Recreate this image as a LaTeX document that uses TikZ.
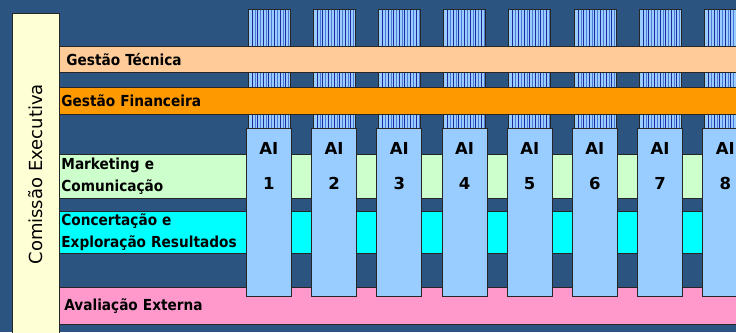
\documentclass[tikz,border=0pt]{standalone}
\usepackage{fontspec}
\setmainfont{DejaVu Sans}
\newfontfamily\condfont{DejaVu Sans Condensed}
\usetikzlibrary{positioning}
\definecolor{bgblue}{HTML}{2B5580}
\definecolor{panelyellow}{HTML}{FFFFD6}
\definecolor{tecnica}{HTML}{FFCC99}
\definecolor{financeira}{HTML}{FF9900}
\definecolor{marketing}{HTML}{CCFFCC}
\definecolor{concertacao}{HTML}{00FFFF}
\definecolor{avaliacao}{HTML}{FF99CC}
\definecolor{aiblue}{HTML}{99CCFF}
\definecolor{stripeblue}{HTML}{1C2A9E}
\definecolor{stripemid}{HTML}{4F78D8}

\begin{document}
\begin{tikzpicture}[x=1pt, y=-1pt,
            every node/.style = {draw = black!85, line width = 0.8pt, inner sep = 0pt},
            band/.style = {anchor = north west, text width = 680pt, align = left,
                           inner xsep = 2pt, font = \condfont\bfseries\fontsize{15.2}{22}\selectfont},
            panel/.style = {fill = panelyellow, minimum width = 340pt, minimum height = 47pt,
                            rotate = 90, font = \fontsize{18}{20}\selectfont},
            hatch/.style = {anchor = north west, fill = aiblue, minimum width = 42pt, minimum height = 119pt},
            aibox/.style = {anchor = north west, fill = aiblue, minimum width = 45pt, minimum height = 168pt},
            ailabel/.style = {draw = none, font = \bfseries\fontsize{16.5}{18}\selectfont},
            stripe/.style = {draw = stripeblue, line width = 0.8pt},
            midstripe/.style = {draw = stripemid, line width = 0.6pt}
            ]
            \useasboundingbox (0,0) rectangle (736,332);
            \fill[bgblue] (0,0) rectangle (736,332);

            % striped tops of the columns
            \foreach \i in {1,...,8} {
                \pgfmathsetmacro{\x}{246+65.2*(\i-1)}
                \node[hatch] (top\i) at (\x+1.5,9) {};
                \foreach \s in {0,...,6} {
                    \draw[stripe] (\x+6+\s*5.6,9.5) -- (\x+6+\s*5.6,127.5);
                    \draw[midstripe] (\x+8.8+\s*5.6,9.5) -- (\x+8.8+\s*5.6,127.5);
                }
            }

            % horizontal bands
            \node[band, fill = tecnica, minimum height = 26pt, inner xsep = 7pt] (tecnica) at (59,46) {Gestão Técnica};
            \node[band, fill = financeira, minimum height = 27pt] (financeira) at (59,87) {Gestão Financeira};
            \node[band, fill = marketing, minimum height = 44pt] (marketing) at (59,154) {Marketing e\\Comunicação};
            \node[band, fill = concertacao, minimum height = 42pt] (concertacao) at (59,211) {Concertação e\\Exploração Resultados};
            \node[band, fill = avaliacao, minimum height = 37pt, inner xsep = 5pt] (avaliacao) at (59,287) {Avaliação Externa};

            \node[panel, anchor = east] (comissao) at (35.5,13) {\hspace*{18pt}Comissão Executiva};

            % activity boxes
            \foreach \i in {1,...,8} {
                \pgfmathsetmacro{\x}{246+65.2*(\i-1)}
                \node[aibox] (ai\i) at (\x,128) {};
                \node[ailabel, below = 14pt of ai\i.north] (ait\i) {AI};
                \node[ailabel, below = 22pt of ait\i] (ain\i) {\i};
            }
        \end{tikzpicture}
\end{document}
